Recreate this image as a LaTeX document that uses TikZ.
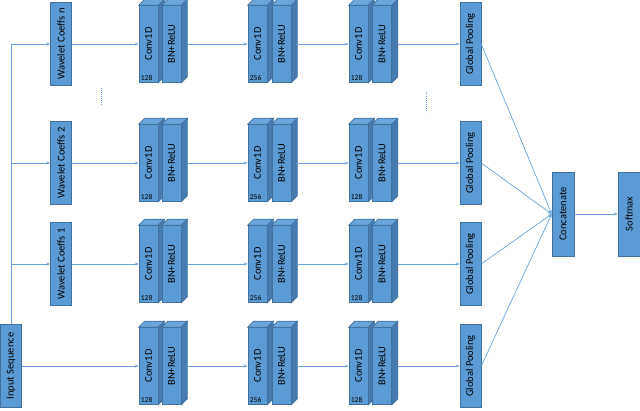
\documentclass[tikz,border=0pt]{standalone}
\usepackage{fontspec}
\setmainfont{Carlito}
\usepackage{tikz}
\usetikzlibrary{arrows.meta,positioning}

\definecolor{blk}{RGB}{91,155,213}
\definecolor{blkline}{RGB}{65,113,156}
\definecolor{blktop}{RGB}{106,166,220}
\definecolor{blkside}{RGB}{70,122,176}
\definecolor{wire}{RGB}{105,163,222}

\tikzset{
  flat/.style={draw=blkline,fill=blk,line width=0.6pt,minimum width=21pt,
    minimum height=83pt,inner sep=0pt,font=\fontsize{10.5}{12}\selectfont},
  layer/.style={flat,minimum width=19pt,minimum height=77pt},
  topface/.style={draw=blkline,fill=blktop,line width=0.6pt},
  sideface/.style={draw=blkline,fill=blkside,line width=0.6pt},
  arr/.style={draw=wire,line width=0.7pt,-{Stealth[length=4pt,width=3pt]}},
  num/.style={anchor=south west,inner sep=2pt,font=\fontsize{7.5}{8}\selectfont},
}

% top and right faces of a layer
\newcommand{\slabdepth}[1]{%
  \filldraw[topface] (#1.north west) -- ++(6,-6) -- ([shift={(6,-6)}]#1.north east) -- (#1.north east) -- cycle;
  \filldraw[sideface] (#1.north east) -- ++(6,-6) -- ([shift={(6,-6)}]#1.south east) -- (#1.south east) -- cycle;
}

\begin{document}
\begin{tikzpicture}[x=1pt,y=-1pt]
\useasboundingbox (0,0) rectangle (640,410);

\node[flat] (inseq) at (11,366) {\rotatebox{90}{Input Sequence}};
\node[flat] (wn) at (61,44) {\rotatebox{90}{Wavelet Coeffs n}};
\node[flat] (w2) at (61,163) {\rotatebox{90}{Wavelet Coeffs 2}};
\node[flat] (w1) at (61,264) {\rotatebox{90}{Wavelet Coeffs 1}};
\node[flat,minimum width=22pt,minimum height=84pt] (cat) at (563,214) {\rotatebox{90}{Concatenate}};
\node[flat,minimum width=22pt,minimum height=84pt] (soft) at (629,214) {\rotatebox{90}{Softmax}};

\foreach \r/\y in {n/44,2/163,1/264,0/366}{
  \node[layer] (c1\r) at (148.5,\y) {\rotatebox{90}{Conv1D}};
  \slabdepth{c1\r}
  \node[num] (k1\r) at (c1\r.south west) {128};
  \node[layer] (b1\r) at (171.5,\y) {\rotatebox{90}{BN+ReLU}};
  \slabdepth{b1\r}
  \node[layer] (c2\r) at (257.5,\y) {\rotatebox{90}{Conv1D}};
  \slabdepth{c2\r}
  \node[num] (k2\r) at (c2\r.south west) {256};
  \node[layer] (b2\r) at (281.5,\y) {\rotatebox{90}{BN+ReLU}};
  \slabdepth{b2\r}
  \node[layer] (c3\r) at (358.5,\y) {\rotatebox{90}{Conv1D}};
  \slabdepth{c3\r}
  \node[num] (k3\r) at (c3\r.south west) {128};
  \node[layer] (b3\r) at (382,\y) {\rotatebox{90}{BN+ReLU}};
  \slabdepth{b3\r}
  \node[flat] (gp\r) at (470.5,\y) {\rotatebox{90}{Global Pooling}};
  \draw[arr] ([xshift=6pt]b1\r.east) -- (c2\r);
  \draw[arr] ([xshift=6pt]b2\r.east) -- (c3\r);
  \draw[arr] ([xshift=6pt]b3\r.east) -- (gp\r);
  \draw[arr] (gp\r.east) -- (cat.west);
}

\draw[arr] (inseq.north) |- (wn);
\draw[arr] (inseq.north) |- (w2);
\draw[arr] (inseq.north) |- (w1);
\draw[arr] (inseq) -- (c10);
\draw[arr] (wn) -- (c1n);
\draw[arr] (w2) -- (c12);
\draw[arr] (w1) -- (c11);
\draw[arr] (cat) -- (soft);

% rows left out
\draw[wire,line width=0.8pt,dash pattern=on 0.8pt off 1.2pt] (101,88) -- (101,106);
\draw[wire,line width=0.8pt,dash pattern=on 0.8pt off 1.2pt] (426,92) -- (426,112);
\end{tikzpicture}
\end{document}
